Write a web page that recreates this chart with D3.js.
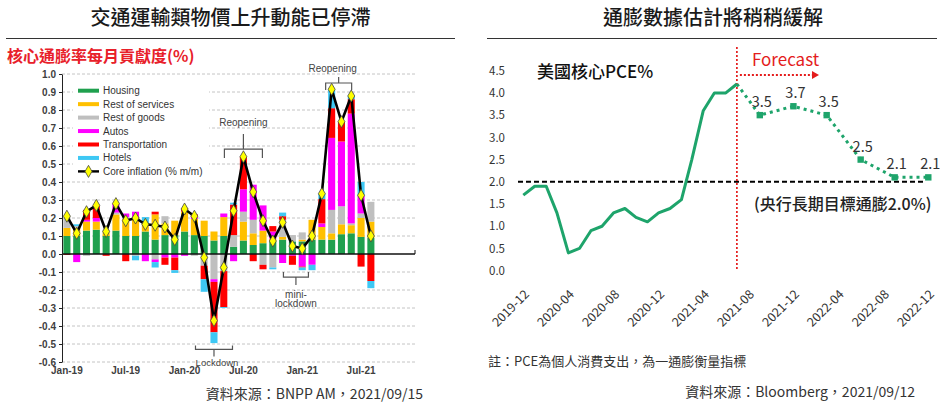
<!DOCTYPE html>
<html>
<head>
<meta charset="utf-8">
<script src="https://cdn.jsdelivr.net/npm/d3@7"></script>
<style>
  body { margin: 0; background: #fff; }
  svg text { font-family: "Noto Sans CJK TC", sans-serif; }
  .lft text { font-family: "Liberation Sans", Arial, sans-serif; }
</style>
</head>
<body>
<div id="chart"></div>
<script>
// ---------- left panel: contributions to core CPI (% m/m) ----------
var months = ["Jan-19","Feb-19","Mar-19","Apr-19","May-19","Jun-19","Jul-19","Aug-19","Sep-19","Oct-19","Nov-19","Dec-19",
              "Jan-20","Feb-20","Mar-20","Apr-20","May-20","Jun-20","Jul-20","Aug-20","Sep-20","Oct-20","Nov-20","Dec-20",
              "Jan-21","Feb-21","Mar-21","Apr-21","May-21","Jun-21","Jul-21","Aug-21"];
var emptyMonths = ["Sep-21","Oct-21","Nov-21","Dec-21"];

var housing   = [0.10,0.10,0.13,0.135,0.10,0.13,0.10,0.10,0.125,0.08,0.105,0.105,
                 0.125,0.105,0.10,0.075,0.10,0.04,0.075,0.05,0.06,0.07,0.08,0.07,
                 0.07,0.08,0.08,0.08,0.11,0.115,0.095,0.09];
var services  = [0.045,0.045,0.05,0.045,0.02,0.09,0.095,0.10,0.045,0.14,0.065,0.08,
                 0.11,0.09,0.085,0.05,0.105,0,0.105,0.065,0.07,0.015,0.015,0,
                 0.01,0.11,0.07,0.035,0.055,0.045,0.105,0.09];
var goods     = [0.06,0.01,-0.01,0,0.015,0.01,0.01,-0.01,0,-0.03,0.04,0,
                 0,-0.01,-0.065,-0.14,-0.095,0.065,0.055,0.075,-0.06,-0.075,0.095,0.035,
                 0.04,0,0,0.13,0.10,0.01,0.025,0.11];
var autos     = [0,-0.045,0.01,0.02,0,0.05,0.02,0.035,-0.04,-0.015,-0.02,-0.02,
                 -0.01,0.01,0,-0.015,0.02,-0.04,0.125,0.195,0.14,0.04,-0.05,-0.01,
                 -0.07,-0.06,0.02,0.40,0.36,0.61,0.10,0];
var transport = [-0.005,0,0.055,0.07,-0.01,0,-0.04,0,0,0.015,-0.04,-0.07,
                 0.02,0.015,-0.075,-0.28,-0.2,0.17,0.18,-0.04,-0.025,0.03,0.02,-0.05,
                 -0.005,0,0.135,0.165,0.11,0.08,-0.07,-0.15];
var hotels    = [0,0.01,0,0,0,0,0,-0.025,0.035,-0.03,0,-0.015,
                 0,0,-0.07,-0.06,-0.005,0.01,0,0,0,-0.01,0.02,0,
                 -0.015,-0.03,0.03,0.105,0,0.02,0.075,-0.04];
var coreInflation = [0.21,0.115,0.235,0.27,0.125,0.28,0.185,0.20,0.165,0.16,0.15,0.08,
                     0.25,0.21,-0.02,-0.37,-0.075,0.24,0.54,0.345,0.185,0.072,0.176,0.044,
                     0.03,0.10,0.335,0.915,0.735,0.878,0.326,0.10];
var componentNames = ["Housing","Rest of services","Rest of goods","Autos","Transportation","Hotels"];
var leftTicks = ["Jan-19","Jul-19","Jan-20","Jul-20","Jan-21","Jul-21"];

// ---------- right panel: US core PCE (%) ----------
var pceMonths = ["2019-12","2020-01","2020-02","2020-03","2020-04","2020-05","2020-06","2020-07","2020-08","2020-09",
                 "2020-10","2020-11","2020-12","2021-01","2021-02","2021-03","2021-04","2021-05","2021-06","2021-07"];
var pceActual = [1.7,1.9,1.9,1.3,0.4,0.5,0.9,1.0,1.3,1.4,1.2,1.1,1.3,1.4,1.6,2.5,3.6,4.0,4.0,4.2];
var forecastMonths = ["2021-09","2021-12","2022-03","2022-06","2022-09","2022-12"];
var pceForecast = [3.5,3.7,3.5,2.5,2.1,2.1];
var pceTicks = ["2019-12","2020-04","2020-08","2020-12","2021-04","2021-08","2021-12","2022-04","2022-08","2022-12"];
var targetRate = 2.0;

var colors = ["#1fa04e","#ffc000","#bfbfbf","#ff00ff","#ff0000","#3ec8f4"];
var green = "#1ea46b";

var svg = d3.select("#chart").append("svg")
    .attr("width", 943)
    .attr("height", 403);

drawLeft();
drawRight();

function drawLeft() {
    var g = svg.append("g").attr("class", "lft");

    var x = d3.scaleBand()
        .domain(months.concat(emptyMonths))
        .range([62, 415])
        .paddingInner(0.28)
        .paddingOuter(0.14);
    var y = d3.scaleLinear().domain([-0.6, 1.0]).range([362, 74]);
    var xc = function(m) { return x(m) + x.bandwidth() / 2; };
    var tickVals = d3.range(-6, 11).map(function(d) { return d / 10; });

    // dashed grid
    g.append("g").selectAll("line")
        .data(tickVals.filter(function(d) { return d !== 0; }))
        .enter().append("line")
        .attr("x1", 62).attr("x2", 415)
        .attr("y1", function(d) { return y(d); })
        .attr("y2", function(d) { return y(d); })
        .attr("stroke", "#c4c4c4")
        .attr("stroke-dasharray", "3,2");

    // stacked bars
    var keys = ["housing","services","goods","autos","transport","hotels"];
    var arrays = [housing, services, goods, autos, transport, hotels];
    var rows = months.map(function(m, i) {
        var r = {month: m};
        keys.forEach(function(k, j) { r[k] = arrays[j][i]; });
        return r;
    });
    var stacked = d3.stack().keys(keys).offset(d3.stackOffsetDiverging)(rows);

    g.append("g").selectAll("g")
        .data(stacked)
        .enter().append("g")
        .attr("fill", function(d, i) { return colors[i]; })
        .selectAll("rect")
        .data(function(d) { return d; })
        .enter().append("rect")
        .attr("x", function(d) { return x(d.data.month); })
        .attr("width", x.bandwidth())
        .attr("y", function(d) { return y(d[1]); })
        .attr("height", function(d) { return y(d[0]) - y(d[1]); });

    // zero line
    g.append("line")
        .attr("x1", 62).attr("x2", 415)
        .attr("y1", y(0)).attr("y2", y(0))
        .attr("stroke", "#111").attr("stroke-width", 1.3);
    g.append("line")
        .attr("x1", 415).attr("x2", 415)
        .attr("y1", y(0)).attr("y2", y(0) - 4)
        .attr("stroke", "#111");

    // core inflation line
    var line = d3.line()
        .x(function(d, i) { return xc(months[i]); })
        .y(function(d) { return y(d); });
    g.append("path")
        .datum(coreInflation)
        .attr("d", line)
        .attr("fill", "none")
        .attr("stroke", "#000")
        .attr("stroke-width", 2.6)
        .attr("stroke-linejoin", "round");
    var diamond = d3.symbol().type(d3.symbolDiamond).size(42);
    g.append("g").selectAll("path")
        .data(coreInflation)
        .enter().append("path")
        .attr("d", diamond)
        .attr("transform", function(d, i) { return "translate(" + xc(months[i]) + "," + y(d) + ")"; })
        .attr("fill", "#ffff00")
        .attr("stroke", "#444")
        .attr("stroke-width", 0.8);

    // y axis
    var yAxis = g.append("g")
        .attr("transform", "translate(62,0)")
        .call(d3.axisLeft(y).tickValues(tickVals).tickSize(3).tickSizeOuter(0)
            .tickFormat(function(d) { return d.toFixed(1); }));
    yAxis.select(".domain").attr("stroke", "#222");
    yAxis.selectAll("line").attr("stroke", "#222");
    yAxis.selectAll("text")
        .attr("font-size", 10).attr("font-weight", "bold").attr("fill", "#404040")
        .attr("font-family", "Liberation Sans, Arial, sans-serif");

    // x labels
    var xAxis = g.append("g")
        .attr("transform", "translate(0,362)")
        .call(d3.axisBottom(x).tickValues(leftTicks).tickSize(0).tickPadding(5));
    xAxis.select(".domain").remove();
    xAxis.selectAll("text")
        .attr("font-size", 10).attr("font-weight", "bold").attr("fill", "#404040")
        .attr("font-family", "Liberation Sans, Arial, sans-serif");

    // legend
    var leg = g.append("g");
    leg.append("rect")
        .attr("x", 73).attr("y", 84).attr("width", 136).attr("height", 94)
        .attr("fill", "#fff");
    var legendItems = componentNames.concat(["Core inflation (% m/m)"]);
    var item = leg.selectAll("g")
        .data(legendItems)
        .enter().append("g")
        .attr("transform", function(d, i) { return "translate(78," + (90.7 + i * 13.45) + ")"; });
    item.filter(function(d, i) { return i < 6; })
        .append("rect")
        .attr("x", 0).attr("y", -2).attr("width", 21).attr("height", 4)
        .attr("fill", function(d, i) { return colors[i]; });
    var last = item.filter(function(d, i) { return i === 6; });
    last.append("line")
        .attr("x1", 0).attr("x2", 21).attr("y1", 0).attr("y2", 0)
        .attr("stroke", "#000").attr("stroke-width", 2.4);
    last.append("path")
        .attr("d", diamond)
        .attr("transform", "translate(10.5,0)")
        .attr("fill", "#ffff00").attr("stroke", "#444").attr("stroke-width", 0.8);
    item.append("text")
        .attr("x", 25).attr("dy", "0.35em")
        .attr("font-size", 10).attr("fill", "#333")
        .text(function(d) { return d; });

    // annotations
    function bracket(cx, yy, half, endDy, tickDy) {
        var p = "M" + (cx - half) + "," + (yy + endDy) + "V" + yy + "H" + (cx + half) + "V" + (yy + endDy) +
                "M" + cx + "," + yy + "V" + (yy + tickDy);
        g.append("path").attr("d", p)
            .attr("fill", "none").attr("stroke", "#555").attr("stroke-width", 1.2);
    }
    function note(tx, ty, txt) {
        g.append("text").attr("x", tx).attr("y", ty)
            .attr("text-anchor", "middle").attr("dy", "0.35em")
            .attr("font-size", 10).attr("fill", "#444").text(txt);
    }
    bracket(xc("Jul-20"), y(0.583), 19, 9, -15);
    note(xc("Jul-20"), 122, "Reopening");
    bracket(xc("Apr-21") + 7, y(0.95), 13, 7, -6);
    note(xc("Apr-21") + 1, 68, "Reopening");
    bracket(xc("Dec-20") + 3.5, y(-0.128), 12.5, -5, 8);
    note(xc("Dec-20") + 3.5, 294, "mini-");
    note(xc("Dec-20") + 3.5, 303.5, "lockdown");
    bracket(xc("Apr-20"), y(-0.53), 18.5, -4, 7);
    g.append("text").attr("x", xc("Apr-20") + 3).attr("y", 366)
        .attr("text-anchor", "middle")
        .attr("font-size", 9.5).attr("fill", "#444").text("Lockdown");

    // titles
    svg.append("text").attr("x", 230.5).attr("y", 25)
        .attr("text-anchor", "middle").attr("font-size", 20).attr("font-weight", 500)
        .attr("fill", "#1a1a1a").text("交通運輸類物價上升動能已停滯");
    svg.append("line").attr("x1", 6).attr("x2", 455).attr("y1", 38.5).attr("y2", 38.5)
        .attr("stroke", "#333").attr("stroke-width", 1.2);
    svg.append("text").attr("x", 7).attr("y", 62)
        .attr("font-size", 16).attr("font-weight", "bold")
        .attr("fill", "#e8202a").text("核心通膨率每月貢獻度(%)");
    svg.append("text").attr("x", 423).attr("y", 399)
        .attr("text-anchor", "end").attr("font-size", 14)
        .attr("fill", "#333").text("資料來源：BNPP AM，2021/09/15");
}

function drawRight() {
    var g = svg.append("g");
    var parse = d3.timeParse("%Y-%m");

    var x = d3.scaleTime()
        .domain([parse("2019-12"), parse("2022-12")])
        .range([523.3, 928.3]);
    var y = d3.scaleLinear().domain([0, 4.5]).range([270.7, 70.7]);

    var actual = pceMonths.map(function(m, i) { return {date: parse(m), value: pceActual[i]}; });
    var forecast = forecastMonths.map(function(m, i) { return {date: parse(m), value: pceForecast[i]}; });
    var lastActual = actual[actual.length - 1];

    // target line
    g.append("line")
        .attr("x1", 518).attr("x2", 923)
        .attr("y1", y(targetRate)).attr("y2", y(targetRate))
        .attr("stroke", "#000").attr("stroke-width", 2)
        .attr("stroke-dasharray", "5,3");

    // forecast split line
    var xs = x(lastActual.date);
    g.append("line")
        .attr("x1", xs).attr("x2", xs).attr("y1", 47).attr("y2", y(0))
        .attr("stroke", "#e41c1c").attr("stroke-width", 1.7)
        .attr("stroke-dasharray", "2,2");

    var line = d3.line()
        .x(function(d) { return x(d.date); })
        .y(function(d) { return y(d.value); });
    g.append("path")
        .datum(actual)
        .attr("d", line)
        .attr("fill", "none").attr("stroke", green)
        .attr("stroke-width", 3).attr("stroke-linejoin", "round");
    g.append("path")
        .datum([lastActual].concat(forecast))
        .attr("d", line)
        .attr("fill", "none").attr("stroke", green)
        .attr("stroke-width", 3).attr("stroke-dasharray", "3,4");
    g.selectAll("rect.pt")
        .data(forecast)
        .enter().append("rect")
        .attr("class", "pt")
        .attr("x", function(d) { return x(d.date) - 3.2; })
        .attr("y", function(d) { return y(d.value) - 3.2; })
        .attr("width", 6.4).attr("height", 6.4)
        .attr("fill", green);
    g.selectAll("text.lbl")
        .data(forecast)
        .enter().append("text")
        .attr("class", "lbl")
        .attr("x", function(d) { return x(d.date) + 2; })
        .attr("y", function(d) { return y(d.value) - 8; })
        .attr("text-anchor", "middle")
        .attr("font-size", 14.5).attr("fill", "#333")
        .text(function(d) { return d.value.toFixed(1); });

    // axes
    var yAxis = g.append("g")
        .attr("transform", "translate(509,0)")
        .call(d3.axisLeft(y).tickValues(d3.range(0, 10).map(function(d) { return d / 2; }))
            .tickSize(0).tickPadding(4).tickFormat(function(d) { return d.toFixed(1); }));
    yAxis.select(".domain").remove();
    yAxis.selectAll("text")
        .attr("font-size", 11.5).attr("fill", "#333")
        .attr("font-family", "DejaVu Sans, sans-serif");

    var xAxis = g.append("g")
        .attr("transform", "translate(0,289)")
        .call(d3.axisBottom(x).tickValues(pceTicks.map(parse)).tickSize(0)
            .tickFormat(d3.timeFormat("%Y-%m")));
    xAxis.select(".domain").remove();
    xAxis.selectAll("text")
        .attr("y", 0).attr("dy", "0.35em")
        .attr("text-anchor", "end")
        .attr("transform", "translate(3,3) rotate(-45)")
        .attr("font-size", 12.5).attr("fill", "#333")
        .attr("font-family", "DejaVu Sans, sans-serif");

    // forecast marker
    g.append("text").attr("x", xs + 15).attr("y", 66)
        .attr("font-size", 17).attr("fill", "#e41c1c")
        .attr("font-family", "Liberation Sans, Arial, sans-serif")
        .text("Forecast");
    g.append("line")
        .attr("x1", xs + 3).attr("x2", 813).attr("y1", 75).attr("y2", 75)
        .attr("stroke", "#e41c1c").attr("stroke-width", 2)
        .attr("stroke-dasharray", "2,2");
    g.append("path")
        .attr("d", "M812,71L819,75L812,79Z")
        .attr("fill", "#e41c1c");

    // texts
    g.append("text").attr("x", 537).attr("y", 78)
        .attr("font-size", 17).attr("font-weight", 500).attr("fill", "#111")
        .text("美國核心PCE%");
    g.append("text").attr("x", 754).attr("y", 210)
        .attr("font-size", 16).attr("font-weight", 500).attr("fill", "#222")
        .text("(央行長期目標通膨2.0%)");
    g.append("text").attr("x", 713).attr("y", 25)
        .attr("text-anchor", "middle").attr("font-size", 20).attr("font-weight", 500)
        .attr("fill", "#1a1a1a").text("通膨數據估計將稍稍緩解");
    g.append("line").attr("x1", 487).attr("x2", 937).attr("y1", 38.5).attr("y2", 38.5)
        .attr("stroke", "#333").attr("stroke-width", 1.2);
    g.append("text").attr("x", 488).attr("y", 366)
        .attr("font-size", 13).attr("fill", "#333")
        .text("註：PCE為個人消費支出，為一通膨衡量指標");
    g.append("text").attr("x", 915).attr("y", 397)
        .attr("text-anchor", "end").attr("font-size", 14).attr("fill", "#333")
        .text("資料來源：Bloomberg，2021/09/12");
}
</script>
</body>
</html>
